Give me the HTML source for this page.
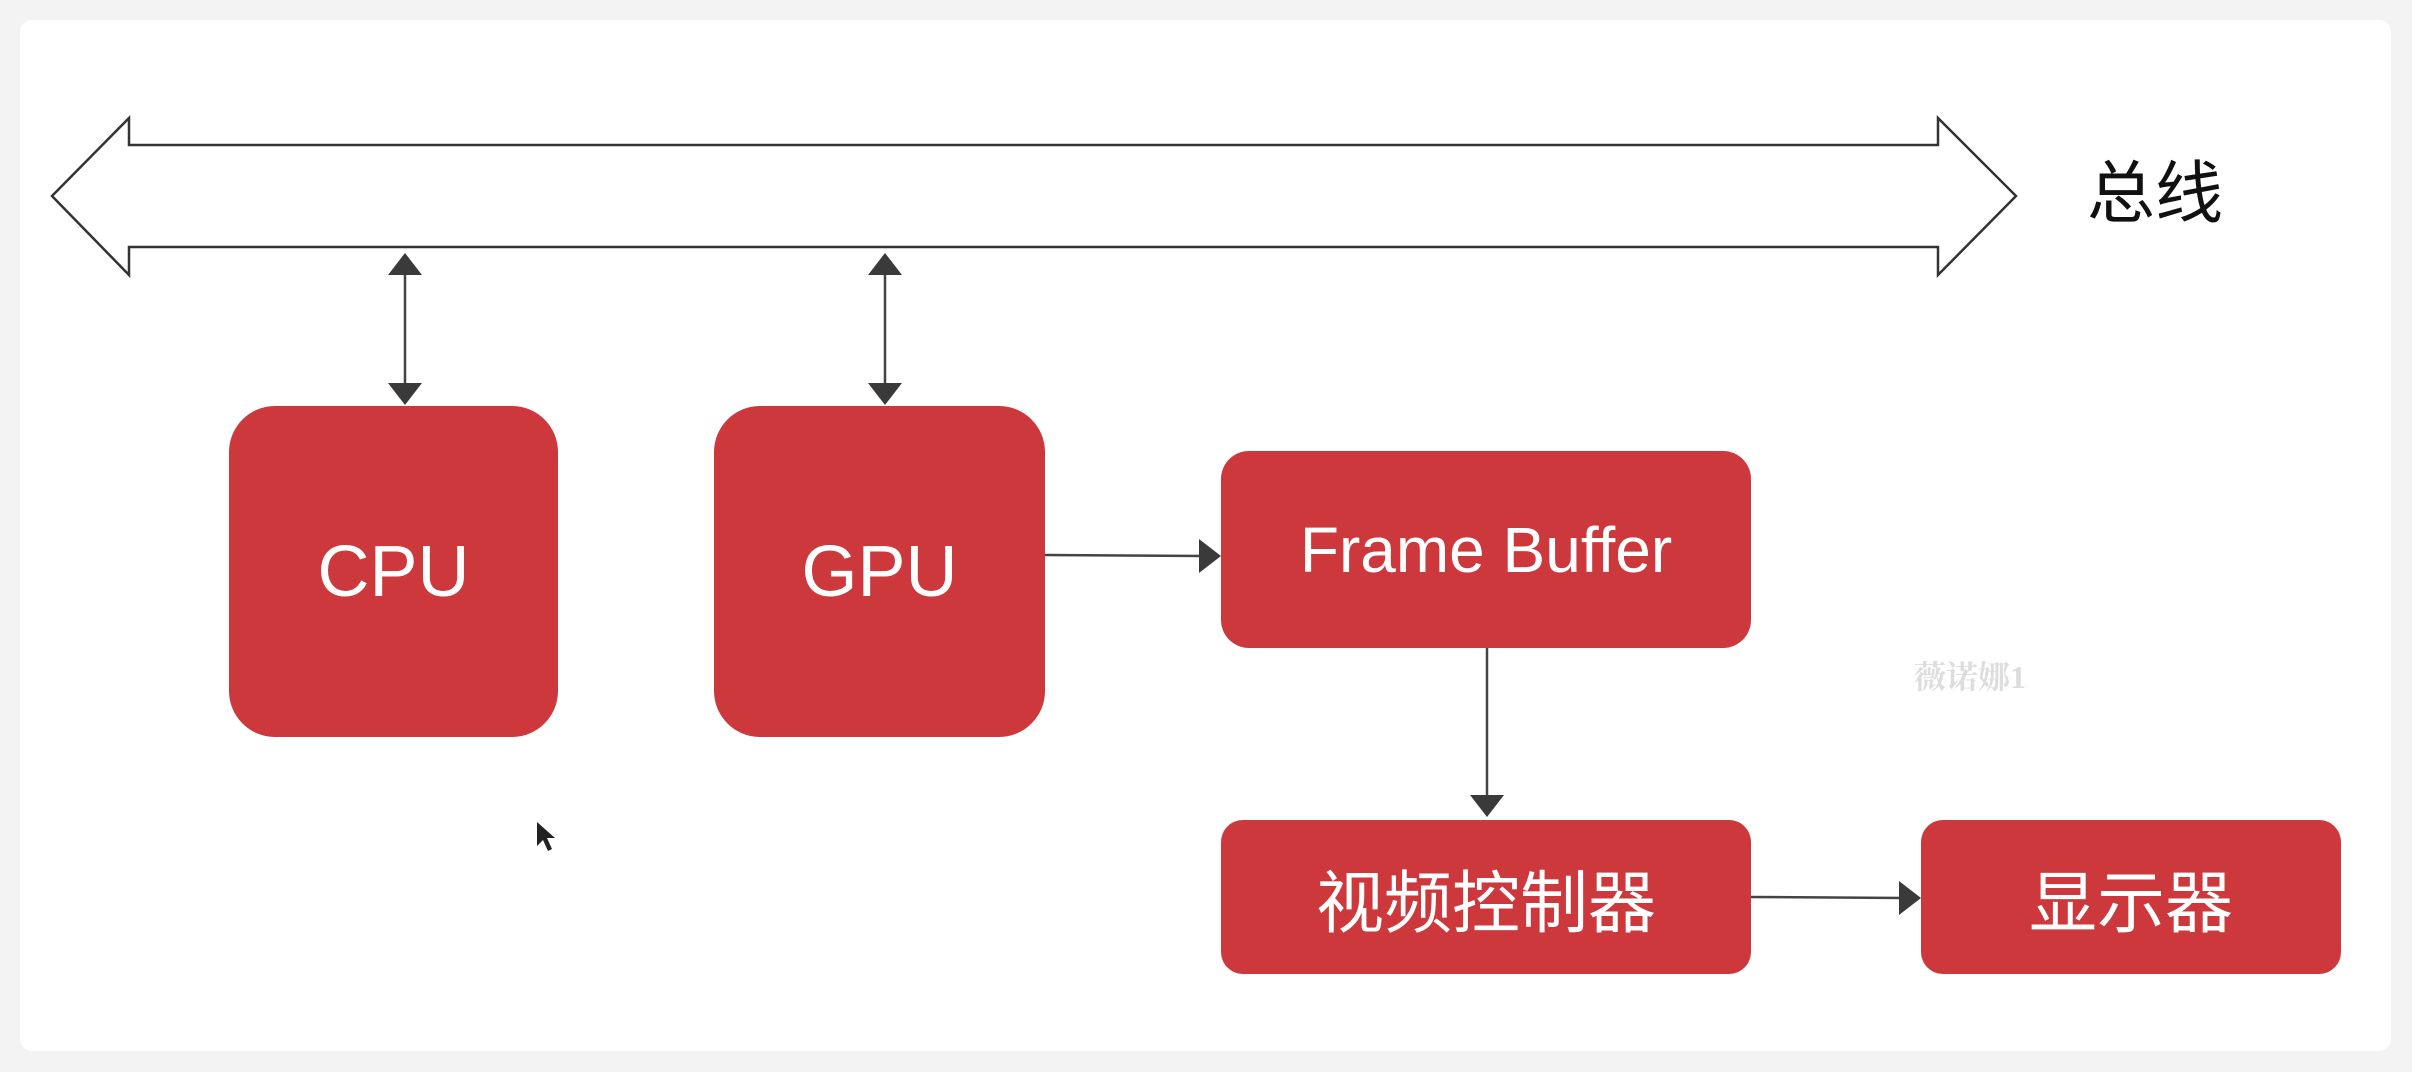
<!DOCTYPE html>
<html><head><meta charset="utf-8"><style>
html,body{margin:0;padding:0;background:#f3f3f3;}
body{width:2412px;height:1072px;position:relative;overflow:hidden;font-family:"Liberation Sans","Noto Sans CJK SC",sans-serif;}
.card{position:absolute;left:20px;top:20px;width:2371px;height:1031px;background:#fff;border-radius:12px;}
.box{position:absolute;background:#cc383b;color:#fff;display:flex;align-items:center;justify-content:center;}
</style></head><body>
<div class="card"></div>
<svg width="2412" height="1072" style="position:absolute;left:0;top:0">
<defs>
<marker id="a" markerWidth="10" markerHeight="10" refX="9" refY="5" orient="auto" markerUnits="userSpaceOnUse" viewBox="0 0 10 10"></marker>
</defs>
<polygon points="52,196 129,118 129,145 1938,145 1938,118 2016,196 1938,275 1938,247 129,247 129,275" fill="#fff" stroke="#333" stroke-width="2.5"/>
<g stroke="#444" stroke-width="2.5" fill="#3a3a3a">
<line x1="405" y1="270" x2="405" y2="388"/>
<polygon points="405,253 388,275 422,275" stroke="none"/>
<polygon points="405,405 388,383 422,383" stroke="none"/>
<line x1="885" y1="270" x2="885" y2="388"/>
<polygon points="885,253 868,275 902,275" stroke="none"/>
<polygon points="885,405 868,383 902,383" stroke="none"/>
<line x1="1045" y1="555" x2="1205" y2="556"/>
<polygon points="1221,556 1199,539 1199,573" stroke="none"/>
<line x1="1487" y1="648" x2="1487" y2="800"/>
<polygon points="1487,817 1470,795 1504,795" stroke="none"/>
<line x1="1751" y1="897" x2="1905" y2="898"/>
<polygon points="1921,898 1899,881 1899,915" stroke="none"/>
</g>
<polygon points="537,822 537,846 543,840 548,851 552,849 547,838 555,838" fill="#222"/>
</svg>
<div style="position:absolute;left:2087px;top:160px;font-size:68px;color:#111;line-height:1">总线</div>
<div class="box" style="left:229px;top:406px;width:329px;height:331px;border-radius:46px;font-size:72px">CPU</div>
<div class="box" style="left:714px;top:406px;width:331px;height:331px;border-radius:46px;font-size:72px">GPU</div>
<div class="box" style="left:1221px;top:451px;width:530px;height:197px;border-radius:28px;font-size:64px">Frame Buffer</div>
<div class="box" style="left:1221px;top:820px;width:530px;height:154px;border-radius:22px;font-size:68px">视频控制器</div>
<div class="box" style="left:1921px;top:820px;width:420px;height:154px;border-radius:22px;font-size:68px">显示器</div>
<div style="position:absolute;left:1914px;top:652px;font-size:32px;color:#ddd;font-family:'Liberation Serif','Noto Serif CJK SC',serif;font-weight:bold">薇诺娜1</div>
</body></html>
